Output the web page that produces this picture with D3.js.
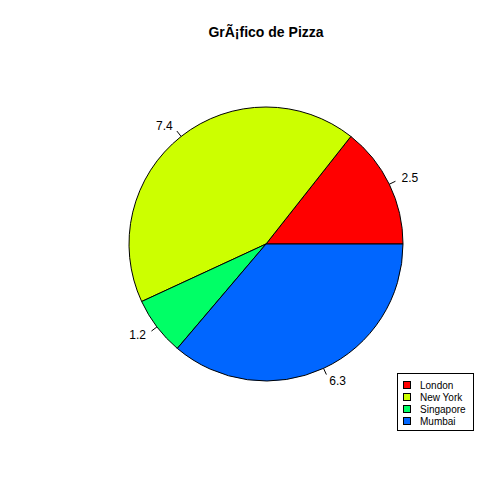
<!DOCTYPE html>
<html>
<head>
<meta charset="utf-8">
<script src="https://cdn.jsdelivr.net/npm/d3@7"></script>
<style>
  body { margin: 0; background: #fff; }
  text { font-family: "Liberation Sans", Arial, sans-serif; }
</style>
</head>
<body>
<script>
var cities = ['London', 'New York', 'Singapore', 'Mumbai'];
var values = [2.5, 7.4, 1.2, 6.3];
var labels = ['2.5', '7.4', '1.2', '6.3'];
var colours = ['#FF0000', '#CCFF00', '#00FF66', '#0066FF'];
var title = 'GrÃ¡fico de Pizza';

var W = 504, H = 504;
var cx = 266, cy = 244, R = 137;

var svg = d3.select(document.body)
  .append('svg')
  .attr('width', W).attr('height', H);

svg.append('rect').attr('width', W).attr('height', H).attr('fill', '#fff');

svg.append('text')
  .attr('x', 266).attr('y', 37)
  .attr('text-anchor', 'middle')
  .style('font-size', '14px').style('font-weight', 'bold')
  .text(title);

// R draws counter-clockwise from 3 o'clock
var pie = d3.pie().sort(null)
  .startAngle(Math.PI / 2)
  .endAngle(Math.PI / 2 - 2 * Math.PI);

var arcs = pie(values);
var arc = d3.arc().innerRadius(0).outerRadius(R);

var g = svg.append('g').attr('transform', 'translate(' + cx + ',' + cy + ')');

g.selectAll('path.slice')
  .data(arcs)
  .enter().append('path')
  .attr('class', 'slice')
  .attr('d', function(d) { return arc({startAngle: d.endAngle, endAngle: d.startAngle}); })
  .attr('fill', function(d, i) { return colours[i]; })
  .attr('stroke', '#000').attr('stroke-width', 1);

function mid(d) {
  var a = (d.startAngle + d.endAngle) / 2;
  return [Math.sin(a), -Math.cos(a)];
}

g.selectAll('line.tick')
  .data(arcs)
  .enter().append('line')
  .attr('x1', function(d) { return mid(d)[0] * R; })
  .attr('y1', function(d) { return mid(d)[1] * R; })
  .attr('x2', function(d) { return mid(d)[0] * R * 1.05; })
  .attr('y2', function(d) { return mid(d)[1] * R * 1.05; })
  .attr('stroke', '#000');

g.selectAll('text.lab')
  .data(arcs)
  .enter().append('text')
  .attr('x', function(d) { return mid(d)[0] * R * 1.1; })
  .attr('y', function(d) { return mid(d)[1] * R * 1.1; })
  .attr('dy', '0.35em')
  .attr('text-anchor', function(d) { return mid(d)[0] < 0 ? 'end' : 'start'; })
  .style('font-size', '12px')
  .text(function(d, i) { return labels[i]; });

// legend
var lg = svg.append('g');
lg.append('rect')
  .attr('x', 397.5).attr('y', 373.5)
  .attr('width', 76).attr('height', 57)
  .attr('fill', '#fff').attr('stroke', '#000');

var rows = lg.selectAll('g.row')
  .data(cities)
  .enter().append('g')
  .attr('transform', function(d, i) { return 'translate(0,' + (385 + i * 12) + ')'; });

rows.append('rect')
  .attr('x', 403.5).attr('y', -3.5)
  .attr('width', 7).attr('height', 7)
  .attr('fill', function(d, i) { return colours[i]; })
  .attr('stroke', '#000');

rows.append('text')
  .attr('x', 420).attr('y', 0)
  .attr('dy', '0.35em')
  .style('font-size', '10px')
  .text(function(d) { return d; });
</script>
</body>
</html>
